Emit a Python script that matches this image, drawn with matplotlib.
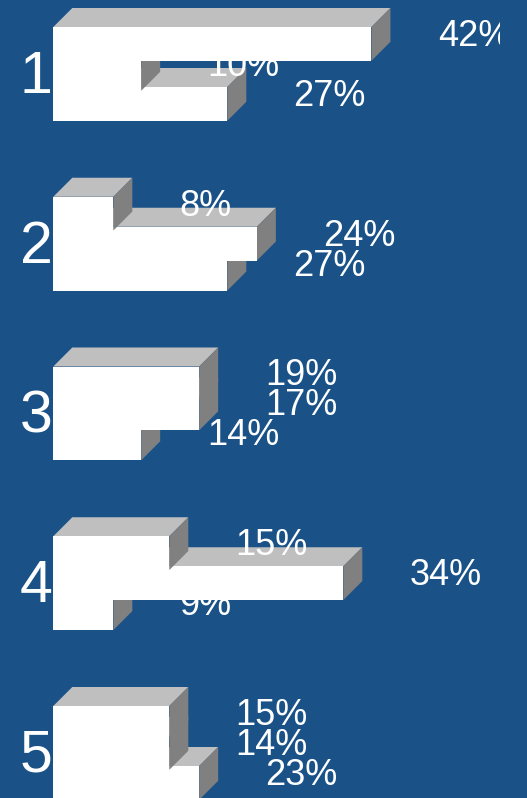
import matplotlib
matplotlib.use("Agg")
import matplotlib.pyplot as plt
from matplotlib.transforms import Bbox

plt.rcParams['font.family'] = ['Liberation Sans', 'DejaVu Sans']

categories = ['1', '2', '3', '4', '5']
# one value per group, top bar / middle bar / bottom bar
series_a = [10.97, 2.07, 5.03, 4.0, 4.0]
series_b = [3.03, 7.02, 5.03, 10.0, 4.0]
series_c = [6.0, 6.0, 3.03, 2.07, 5.03]
labels_a = ['42%', '8%', '19%', '15%', '15%']
labels_b = ['10%', '24%', '17%', '34%', '14%']
labels_c = ['27%', '27%', '14%', '9%', '23%']

bg = '#1A5288'
top_col = '#BFBFBF'
side_col = '#808080'

W = 527
H = 798
unit = 29.0     # px per count
x0 = 53.3
depth = 19.0
bar_h = 33.8
bar_step = 30.0
group_top = 27.0
group_step = 169.75

fig = plt.figure(figsize=(W / 100, H / 100), dpi=100, facecolor=bg)
ax = fig.add_axes([0, 0, 1, 1])
ax.set_xlim(-x0 / unit, (W - x0) / unit)
ax.set_ylim(H, 0)
ax.axis('off')

dx = depth / unit
clip = Bbox([[0, 0], [500, H]])

for i, cat in enumerate(categories):
    top = group_top + i * group_step
    ax.text(-17 / unit, top + 66, cat, color='white', fontsize=42.5,
            ha='center', va='baseline', zorder=1)

    bars = [(2, series_c[i], labels_c[i]), (1, series_b[i], labels_b[i]), (0, series_a[i], labels_a[i])]
    z = 2
    # bottom bar first, the upper ones sit over it and over its label
    for j, val, lab in bars:
        y = top + j * bar_step
        ax.fill([0, dx, val + dx, val], [y, y - depth, y - depth, y], color=top_col, lw=0, zorder=z)
        ax.fill([val, val + dx, val + dx, val], [y, y - depth, y + bar_h - depth, y + bar_h],
                color=side_col, lw=0, zorder=z)
        ax.barh(y + bar_h / 2, val, height=bar_h, left=0, color='white', lw=0, zorder=z + 1)
        t = ax.text(val + 66.3 / unit, y + bar_h / 2 + 2, lab, color='white', fontsize=26,
                    ha='left', va='baseline', zorder=z + 2, clip_on=True)
        t.set_clip_path(None)
        t.set_clip_box(clip)
        z += 3

fig.savefig('out.png', dpi=100, facecolor=bg)
